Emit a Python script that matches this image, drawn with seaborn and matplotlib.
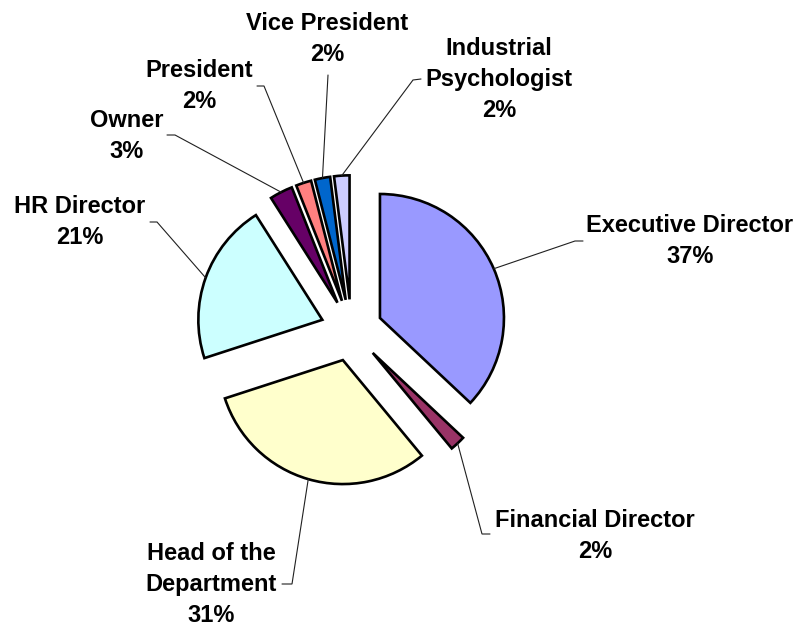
import numpy as np
import matplotlib
matplotlib.use("Agg")
import matplotlib.pyplot as plt
import seaborn as sns

# Respondents by job position (share of total, %)
positions = ["Executive Director", "Financial Director", "Head of the\nDepartment",
             "HR Director", "Owner", "President", "Vice President",
             "Industrial\nPsychologist"]
shares = [37, 2, 31, 21, 3, 2, 2, 2]
colors = ["#9999FF", "#993366", "#FFFFCC", "#CCFFFF", "#660066",
          "#FF8080", "#0066CC", "#CCCCFF"]

W, H = 799, 627
sns.set_theme(style="white")
plt.rcParams["font.family"] = ["Liberation Sans", "DejaVu Sans"]

fig = plt.figure(figsize=(W / 100, H / 100), dpi=100)
ax = fig.add_axes([0, 0, 1, 1])


def px(x, y):
    """Pixel position (origin top-left) to data coordinates."""
    return x, H - y


radius = 124
gap = 0.25 * radius
wedges, _ = ax.pie(shares, colors=colors, startangle=90, counterclock=False,
                   radius=radius, center=px(351.5, 330.3),
                   explode=[gap] * len(shares),
                   wedgeprops=dict(edgecolor="black", linewidth=1.9))

ax.set_xlim(0, W)
ax.set_ylim(0, H)
ax.set_aspect("equal")
ax.axis("off")

# label block: centre x, first baseline y, leader elbow, leader end at the text
label_layout = [
    ((690, 232), (575, 241), (583, 241)),
    ((595, 527), (482, 534), (490, 534)),
    ((211, 560), (292, 584), (282, 584)),
    ((80, 213), (157, 222), (150, 222)),
    ((127, 127), (175, 135), (167, 135)),
    ((199, 77), (264, 86), (257, 86)),
    ((327, 30), (328, 75), (328, 75)),
    ((499, 55), (413, 80), (421, 79)),
]
line_step = 31.2

for w, name, val, (pos, elbow, end) in zip(wedges, positions, shares, label_layout):
    mid = np.deg2rad((w.theta1 + w.theta2) / 2)
    cx, cy = w.center
    ax0 = cx + w.r * np.cos(mid)
    ay0 = cy + w.r * np.sin(mid)
    ex, ey = px(*elbow)
    sx, sy = px(*end)
    ax.plot([ax0, ex, sx], [ay0, ey, sy], color="#202020", lw=0.8,
            solid_joinstyle="miter")
    lines = name.split("\n") + [f"{val}%"]
    for i, line in enumerate(lines):
        tx, ty = px(pos[0], pos[1] + i * line_step)
        ax.text(tx, ty, line, ha="center", va="baseline", fontsize=17,
                fontweight="bold", color="black")

fig.savefig("out.png", dpi=100, facecolor="white")
